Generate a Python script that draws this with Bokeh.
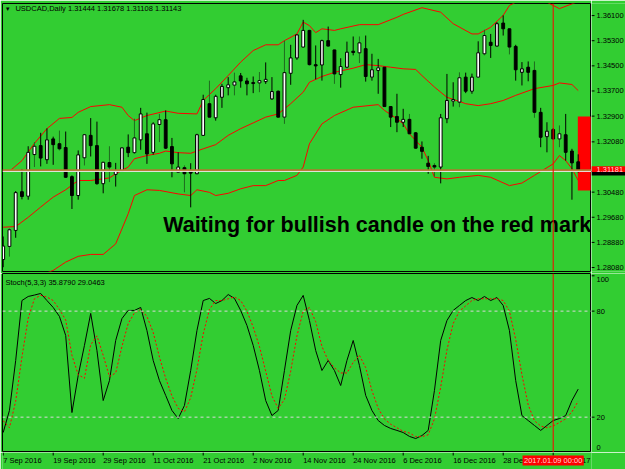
import pandas as pd
from bokeh.plotting import figure
from bokeh.layouts import column, row
from bokeh.models import ColumnDataSource, Span, Label, Range1d
from bokeh.core.properties import value
from bokeh.embed import file_html
from bokeh.resources import INLINE

# ---------------- data ----------------
symbol_text = "USDCAD,Daily  1.31444 1.31678 1.31108 1.31143"
stoch_text = "Stoch(5,3,3) 35.8790 29.0463"
note_text = "Waiting for bullish candle on the red mark"

dates = pd.bdate_range("2016-09-07", "2017-01-13")

opens = [1.2839, 1.2880, 1.2930, 1.3051, 1.3037, 1.3167, 1.3195, 1.3151, 1.3216, 1.3201,
         1.3189, 1.3098, 1.3039, 1.3157, 1.3227, 1.3195, 1.3076, 1.3142, 1.3105, 1.3115,
         1.3190, 1.3173, 1.3213, 1.3232, 1.3174, 1.3261, 1.3276, 1.3192, 1.3112, 1.3126,
         1.3114, 1.3107, 1.3227, 1.3326, 1.3282, 1.3346, 1.3376, 1.3384, 1.3413, 1.3397,
         1.3392, 1.3391, 1.3395, 1.3341, 1.3365, 1.3284, 1.3421, 1.3469, 1.3503, 1.3555,
         1.3448, 1.3447, 1.3523, 1.3494, 1.3417, 1.3440, 1.3490, 1.3485, 1.3498, 1.3409,
         1.3430, 1.3440, 1.3317, 1.3286, 1.3268, 1.3277, 1.3235, 1.3190, 1.3140, 1.3133,
         1.3128, 1.3279, 1.3334, 1.3331, 1.3409, 1.3365, 1.3409, 1.3482, 1.3518, 1.3506,
         1.3578, 1.3560, 1.3505, 1.3424, 1.3440, 1.3430, 1.3299, 1.3223, 1.3245, 1.3216,
         1.3229, 1.3178, 1.31444]
highs = [1.2911, 1.2936, 1.3053, 1.3122, 1.3193, 1.3206, 1.3235, 1.3249, 1.3223, 1.3242,
         1.3239, 1.3102, 1.3180, 1.3231, 1.3281, 1.3270, 1.3144, 1.3193, 1.3141, 1.3189,
         1.3230, 1.3279, 1.3313, 1.3298, 1.3268, 1.3294, 1.3305, 1.3219, 1.3174, 1.3133,
         1.3140, 1.3232, 1.3354, 1.3398, 1.3354, 1.3388, 1.3409, 1.3423, 1.3422, 1.3407,
         1.3411, 1.3425, 1.3455, 1.3409, 1.3367, 1.3523, 1.3510, 1.3542, 1.3588, 1.3557,
         1.3508, 1.3526, 1.3567, 1.3495, 1.3468, 1.3520, 1.3536, 1.3536, 1.3539, 1.3482,
         1.3466, 1.3441, 1.3318, 1.3357, 1.3310, 1.3294, 1.3237, 1.3208, 1.3163, 1.3140,
         1.3294, 1.3419, 1.3393, 1.3424, 1.3423, 1.3420, 1.3521, 1.3557, 1.3544, 1.3581,
         1.3602, 1.3561, 1.3510, 1.3456, 1.3458, 1.3458, 1.3313, 1.3268, 1.3250, 1.3258,
         1.3294, 1.3185, 1.31678]
lows = [1.2815, 1.2848, 1.2907, 1.3027, 1.3026, 1.3128, 1.3130, 1.3138, 1.3135, 1.3180,
        1.3095, 1.2997, 1.3026, 1.3133, 1.3161, 1.3073, 1.3046, 1.3081, 1.3067, 1.3114,
        1.3159, 1.3169, 1.3182, 1.3138, 1.3167, 1.3206, 1.3185, 1.3096, 1.3111, 1.3049,
        1.3002, 1.3106, 1.3226, 1.3283, 1.3273, 1.3313, 1.3352, 1.3352, 1.3376, 1.3352,
        1.3359, 1.3362, 1.3388, 1.3338, 1.3283, 1.3263, 1.3385, 1.3463, 1.3502, 1.3445,
        1.3402, 1.3398, 1.3505, 1.3388, 1.3376, 1.3437, 1.3477, 1.3453, 1.3395, 1.3398,
        1.3357, 1.3316, 1.3253, 1.3237, 1.3253, 1.3231, 1.3186, 1.3154, 1.3107, 1.3098,
        1.3077, 1.3265, 1.3317, 1.3315, 1.3359, 1.3357, 1.3408, 1.3477, 1.3469, 1.3505,
        1.3539, 1.3480, 1.3398, 1.3383, 1.3396, 1.3282, 1.3190, 1.3174, 1.3214, 1.3190,
        1.3148, 1.3026, 1.31108]
closes = [1.2881, 1.2932, 1.3048, 1.3036, 1.3174, 1.3193, 1.3156, 1.3213, 1.3198, 1.3185,
          1.3096, 1.3039, 1.3166, 1.3229, 1.3195, 1.3076, 1.3143, 1.3128, 1.3117, 1.3188,
          1.3173, 1.3219, 1.3294, 1.3169, 1.3263, 1.3276, 1.3187, 1.3138, 1.3128, 1.3107,
          1.3109, 1.3229, 1.3339, 1.3284, 1.3349, 1.3380, 1.3385, 1.3394, 1.3397, 1.3388,
          1.3389, 1.3398, 1.3402, 1.3364, 1.3284, 1.3423, 1.3469, 1.3541, 1.3555, 1.3448,
          1.3444, 1.3523, 1.3506, 1.3419, 1.3442, 1.3487, 1.3486, 1.3516, 1.3411, 1.3432,
          1.3438, 1.3317, 1.3284, 1.3268, 1.3277, 1.3232, 1.3187, 1.3177, 1.3130, 1.3128,
          1.3282, 1.3336, 1.3339, 1.3407, 1.3365, 1.3409, 1.3485, 1.3539, 1.3508, 1.3576,
          1.3560, 1.3503, 1.3432, 1.3435, 1.3424, 1.3299, 1.3221, 1.3240, 1.3216, 1.3232,
          1.3174, 1.3141, 1.31143]

# Bollinger bands read at selected bars (bar index, price)
bb_upper_bar = [0, 1, 3, 5, 7, 9, 11, 12, 14, 17, 19, 20, 21, 23, 26, 28, 31, 32, 34, 36,
                38, 40, 42, 44, 45, 47, 48, 49, 50, 51, 53, 54, 57, 60, 63, 64, 67, 70, 72,
                75, 76, 78, 80, 81, 82, 84, 87, 89, 91, 92]
bb_upper = [1.3114, 1.3115, 1.3148, 1.3202, 1.3248, 1.3280, 1.3283, 1.3299, 1.3317, 1.3323,
            1.3315, 1.3289, 1.3273, 1.3289, 1.3303, 1.3296, 1.3294, 1.3336, 1.3373, 1.3414,
            1.3456, 1.3492, 1.3510, 1.3510, 1.3523, 1.3544, 1.3581, 1.3570, 1.3548, 1.3560,
            1.3555, 1.3560, 1.3573, 1.3573, 1.3596, 1.3605, 1.3626, 1.3612, 1.3576, 1.3544,
            1.3544, 1.3565, 1.3602, 1.3633, 1.3643, 1.3661, 1.3643, 1.3623, 1.3638, 1.3645]
bb_mid_bar = [0, 2, 4, 6, 8, 10, 12, 14, 17, 18, 20, 21, 23, 25, 26, 28, 30, 32, 34, 36,
              38, 40, 42, 44, 46, 48, 49, 51, 53, 56, 58, 60, 62, 64, 66, 67, 69, 71, 73,
              74, 76, 78, 80, 82, 85, 88, 89, 91, 92]
bb_mid = [1.2940, 1.2942, 1.2971, 1.3003, 1.3034, 1.3057, 1.3086, 1.3086, 1.3094, 1.3107,
          1.3128, 1.3154, 1.3164, 1.3171, 1.3178, 1.3173, 1.3171, 1.3185, 1.3198, 1.3227,
          1.3248, 1.3266, 1.3284, 1.3294, 1.3326, 1.3362, 1.3393, 1.3411, 1.3424, 1.3437,
          1.3448, 1.3445, 1.3440, 1.3435, 1.3433, 1.3414, 1.3378, 1.3346, 1.3333, 1.3326,
          1.3320, 1.3326, 1.3336, 1.3352, 1.3373, 1.3383, 1.3391, 1.3386, 1.3367]
bb_lower_bar = [0, 3, 6, 8, 10, 12, 14, 16, 18, 20, 21, 23, 25, 28, 30, 31, 33, 34, 36, 38,
                40, 42, 44, 45, 47, 48, 49, 51, 53, 56, 60, 61, 63, 64, 65, 67, 68, 69, 71,
                73, 76, 78, 81, 83, 85, 88, 89, 90, 91, 92]
bb_lower = [1.2766, 1.2752, 1.2790, 1.2805, 1.2831, 1.2849, 1.2855, 1.2855, 1.2888, 1.2982,
            1.3039, 1.3057, 1.3055, 1.3044, 1.3039, 1.3057, 1.3049, 1.3039, 1.3046, 1.3060,
            1.3070, 1.3070, 1.3086, 1.3086, 1.3102, 1.3128, 1.3201, 1.3263, 1.3289, 1.3315,
            1.3323, 1.3305, 1.3279, 1.3263, 1.3232, 1.3190, 1.3148, 1.3096, 1.3091, 1.3096,
            1.3102, 1.3096, 1.3070, 1.3078, 1.3102, 1.3138, 1.3164, 1.3148, 1.3123, 1.3086]

stoch_k = [11.3, 23.8, 52.1, 86.0, 88.3, 89.1, 90.0, 86.0, 82.1, 77.0,
           66.2, 22.6, 43.6, 60.6, 78.7, 57.7, 29.4, 40.7, 63.4, 75.8,
           80.4, 80.4, 82.1, 69.0, 52.1, 40.7, 32.3, 23.8, 19.2, 26.6,
           46.4, 69.0, 86.0, 87.2, 84.3, 86.0, 89.4, 87.2, 80.4, 71.9,
           60.6, 46.4, 29.4, 20.9, 23.8, 46.4, 69.0, 83.2, 88.9, 74.7,
           57.7, 46.4, 52.1, 46.4, 37.9, 52.1, 63.4, 49.2, 32.3, 23.8,
           18.1, 15.3, 13.6, 12.5, 11.3, 9.1, 7.9, 9.6, 12.5, 35.1,
           63.4, 74.7, 80.4, 83.2, 86.0, 87.7, 86.0, 88.3, 86.0, 87.7,
           83.2, 69.0, 40.7, 20.9, 18.1, 15.3, 12.5, 15.3, 18.1, 19.2,
           20.9, 29.4, 35.879]
stoch_d = [18, 14, 29, 54, 76, 87, 89, 88, 86, 81,
           75, 55, 44, 42, 61, 66, 55, 43, 45, 60,
           73, 79, 81, 77, 68, 54, 42, 32, 25, 23,
           31, 47, 67, 81, 86, 86, 87, 88, 86, 80,
           71, 60, 46, 32, 25, 30, 46, 66, 80, 82,
           74, 60, 52, 48, 45, 45, 51, 55, 48, 35,
           25, 19, 16, 14, 12, 11, 9, 9, 10, 19,
           37, 58, 73, 80, 83, 86, 87, 87, 87, 87,
           86, 80, 64, 44, 27, 18, 15, 14, 15, 17,
           19, 23, 29.0463]

price_ticks = [1.36100, 1.35300, 1.34500, 1.33700, 1.32900, 1.32080, 1.30480, 1.29680, 1.28880, 1.28080]
price_tick_labels = ["1.36100", "1.35300", "1.34500", "1.33700", "1.32900", "1.32080",
                     "1.30480", "1.29680", "1.28880", "1.28080"]
stoch_ticks = [100, 80, 20, 0]
stoch_tick_labels = ["100", "80", "20", "0"]
stoch_levels = [20, 80]
date_ticks = ["2016-09-07", "2016-09-19", "2016-09-29", "2016-10-11", "2016-10-21", "2016-11-02",
              "2016-11-14", "2016-11-24", "2016-12-06", "2016-12-16", "2016-12-28", "2017-01-09"]
date_tick_labels = ["7 Sep 2016", "19 Sep 2016", "29 Sep 2016", "11 Oct 2016", "21 Oct 2016", "2 Nov 2016",
                    "14 Nov 2016", "24 Nov 2016", "6 Dec 2016", "16 Dec 2016", "28 Dec 2016", "9 Jan 2017"]
hline_price = 1.31181
hline_label = "1.31181"
bid_price = 1.31143
marker_date = "2017-01-09"
marker_label = "2017.01.09 00:00"
mark_box_top = 1.3286
mark_box_bottom = 1.3055

# ---------------- layout constants ----------------
BG = "#32CD32"
FONT = "Liberation Sans"
FS = "7.5px"
W = 625
AXW = 34                       # width of right-hand price/stoch scale strip
P_H, P_TOP, P_BOT = 273, 3, 2  # price panel height and frame borders
S_H = 179                      # stochastic panel height (frame fills it)
D_H = 17                       # date strip height
LABEL_HALF_PX = 4.7            # half height of a scale label, keeps edge labels inside
XR = Range1d(-0.11, 94.13)
PY = Range1d(1.28016, 1.36391)
SY = Range1d(0, 101.3)

n = len(closes)
idx = list(range(n))
date_pos = {d.strftime("%Y-%m-%d"): i for i, d in enumerate(dates)}
tick_pos = [date_pos[d] for d in date_ticks]
marker_pos = date_pos[marker_date]

up = [c >= o for o, c in zip(opens, closes)]
src = ColumnDataSource(dict(
    x=idx, high=highs, low=lows,
    top=[max(o, c) for o, c in zip(opens, closes)],
    bottom=[min(o, c) for o, c in zip(opens, closes)],
    fill=[("#d6d6d6" if i % 4 == 3 else "white") if u else "black" for i, u in enumerate(up)],
    wick=["#1e6b1e" if i % 4 == 1 else "black" for i in idx],
))


def bare(fig, outline=True):
    fig.background_fill_color = BG
    fig.border_fill_color = BG
    fig.outline_line_color = "black" if outline else None
    fig.grid.visible = False
    return fig


# ---------------- price panel ----------------
p = bare(figure(width=W - AXW, height=P_H, x_range=XR, y_range=PY,
                output_backend="svg", toolbar_location=None, x_axis_location=None,
                y_axis_location=None, min_border_left=2, min_border_right=0,
                min_border_top=P_TOP, min_border_bottom=P_BOT))

p.quad(left=[idx[-1] - 0.06], right=[idx[-1] + 2], top=[mark_box_top], bottom=[mark_box_bottom],
       fill_color="red", line_color=None)
p.line(bb_upper_bar, bb_upper, color="red", line_width=1)
p.line(bb_mid_bar, bb_mid, color="red", line_width=1)
p.line(bb_lower_bar, bb_lower, color="red", line_width=1)
p.add_layout(Span(location=hline_price, dimension="width", line_color="#b4762c", line_width=2))
p.add_layout(Span(location=bid_price, dimension="width", line_color="#e8e8e8", line_width=1))
p.segment(x0="x", y0="low", x1="x", y1="high", line_color="wick", line_width=1, source=src)
p.vbar(x="x", top="top", bottom="bottom", width=0.45, fill_color="fill",
       line_color="black", line_width=1, source=src)
p.add_layout(Span(location=marker_pos, dimension="height", line_color="red", line_width=1))

p.text(x=[25.6], y=[1.29484], text=[note_text], text_font=value(FONT), text_font_style="bold",
       text_font_size="21.5px", text_color="black", text_baseline="middle", text_align="left")
p.add_layout(Label(x=0.25, y=1.3623, text="\u25BC", text_font=FONT, text_font_size="6px",
                   text_color="black", text_baseline="middle"))
p.add_layout(Label(x=1.95, y=1.3623, text=symbol_text, text_font=FONT, text_font_size=FS,
                   text_color="black", text_baseline="middle"))

# price scale strip (same price-per-pixel as the price frame)
ppu = (P_H - P_TOP - P_BOT) / (PY.end - PY.start)
r = bare(figure(width=AXW, height=P_H, x_range=Range1d(0, AXW),
                y_range=Range1d(PY.start - P_BOT / ppu, PY.end + P_TOP / ppu),
                output_backend="svg", toolbar_location=None, x_axis_location=None,
                y_axis_location=None, min_border_left=0, min_border_right=0,
                min_border_top=0, min_border_bottom=0), outline=False)
r.segment(x0=[0] * len(price_ticks), y0=price_ticks, x1=[3] * len(price_ticks), y1=price_ticks,
          line_color="black", line_width=1)
r.text(x=[5] * len(price_ticks), y=price_ticks, text=price_tick_labels, text_font=value(FONT),
       text_font_size=FS, text_color="black", text_baseline="middle", text_align="left")
r.quad(left=[0], right=[AXW], top=[bid_price + 0.0001], bottom=[bid_price - 0.0013],
       fill_color="black", line_color=None)
r.quad(left=[0], right=[AXW], top=[hline_price + 0.0012], bottom=[hline_price - 0.0006],
       fill_color="red", line_color=None)
r.text(x=[5], y=[hline_price + 0.0003], text=[hline_label], text_font=value(FONT),
       text_font_size=FS, text_color="#ffd6d6", text_baseline="middle", text_align="left")

# ---------------- stochastic panel ----------------
s = bare(figure(width=W - AXW, height=S_H, x_range=XR, y_range=SY,
                output_backend="svg", toolbar_location=None, x_axis_location=None,
                y_axis_location=None, min_border_left=2, min_border_right=0,
                min_border_top=0, min_border_bottom=0))
for lv in stoch_levels:
    s.add_layout(Span(location=lv, dimension="width", line_color="#d8d8d8", line_width=1, line_dash="3 3"))
s.line(idx, stoch_k, color="black", line_width=1)
s.line(idx, stoch_d, color="red", line_width=1, line_dash="2 2")
s.add_layout(Span(location=marker_pos, dimension="height", line_color="red", line_width=1))
s.add_layout(Label(x=0.37, y=96.0, text=stoch_text, text_font=FONT, text_font_size=FS,
                   text_color="black", text_baseline="middle"))

# stochastic scale strip; edge labels are kept inside the panel like the terminal does
spu = S_H / (SY.end - SY.start)
inset = LABEL_HALF_PX / spu
stoch_label_y = [min(max(t, SY.start + inset), SY.end - inset - 1.0) for t in stoch_ticks]
r2 = bare(figure(width=AXW, height=S_H, x_range=Range1d(0, AXW), y_range=SY,
                 output_backend="svg", toolbar_location=None, x_axis_location=None,
                 y_axis_location=None, min_border_left=0, min_border_right=0,
                 min_border_top=0, min_border_bottom=0), outline=False)
r2.segment(x0=[0] * len(stoch_ticks), y0=stoch_ticks, x1=[3] * len(stoch_ticks), y1=stoch_ticks,
           line_color="black", line_width=1)
r2.text(x=[5] * len(stoch_ticks), y=stoch_label_y, text=stoch_tick_labels, text_font=value(FONT),
        text_font_size=FS, text_color="black", text_align="left", text_baseline="middle")

# ---------------- date strip (time scale) ----------------
d = bare(figure(width=W, height=D_H, x_range=XR, y_range=Range1d(D_H, 0),
                output_backend="svg", toolbar_location=None, x_axis_location=None,
                y_axis_location=None, min_border_left=2, min_border_right=AXW,
                min_border_top=0, min_border_bottom=0), outline=False)
d.segment(x0=tick_pos, y0=[0] * len(tick_pos), x1=tick_pos, y1=[3] * len(tick_pos),
          line_color="black", line_width=1)
d.text(x=tick_pos, y=[8] * len(tick_pos), text=date_tick_labels, text_font=value(FONT),
       text_font_size=FS, text_color="black", text_baseline="middle", text_align="left")
d.quad(left=[marker_pos - 4.9], right=[marker_pos + 4.9], top=[3], bottom=[13],
       fill_color="red", line_color=None)
d.text(x=[marker_pos], y=[8], text=[marker_label], text_font=value(FONT),
       text_font_size=FS, text_color="#ffd6d6", text_baseline="middle", text_align="center")

layout = column(row(p, r, spacing=0), row(s, r2, spacing=0), d, spacing=0)
open("out.html", "w").write(file_html(layout, INLINE))
